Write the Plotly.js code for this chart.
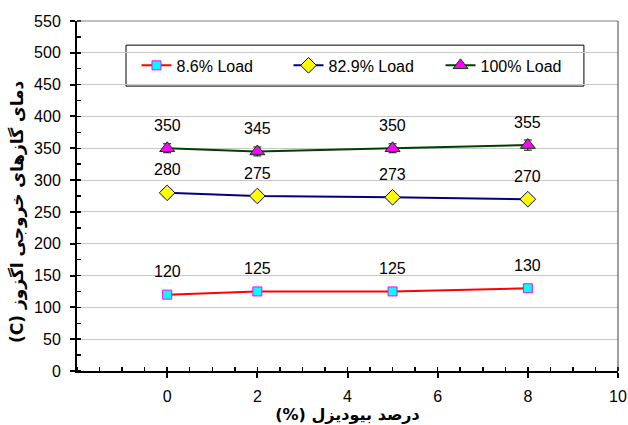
<!DOCTYPE html>
<html>
<head>
<meta charset="utf-8">
<script src="https://cdn.plot.ly/plotly-3.0.1.min.js"></script>
<style>html,body{margin:0;padding:0;background:#fff;}</style>
</head>
<body>
<div id="chart" style="width:628px;height:425px;"></div>
<script>
const biodiesel = [0, 2, 5, 8];
const seriesNames = ["8.6% Load", "82.9% Load", "100% Load"];
const load86 = [120, 125, 125, 130];
const load829 = [280, 275, 273, 270];
const load100 = [350, 345, 350, 355];
const err86 = [3, 3, 3, 3];
const err829 = [6, 6, 6, 5];
const err100 = [7, 7, 7, 8];
const xTickVals = [0, 2, 4, 6, 8, 10];
const yTickVals = [0, 50, 100, 150, 200, 250, 300, 350, 400, 450, 500, 550];
const xTitle = "درصد بیودیزل (%)";
const yTitle = "دمای گازهای خروجی اگزوز (C)";

const FONT = "Arial, 'Liberation Sans', 'DejaVu Sans', sans-serif";
const AFONT = "'DejaVu Sans', Arial, sans-serif";
const rtl = s => "\u202B" + s + "\u202C";

function mk(name, y, err, lineColor, sym, size, fill, edge) {
  return {
    x: biodiesel, y: y, name: name, type: "scatter", mode: "lines+markers",
    line: {color: lineColor, width: 2},
    marker: {symbol: sym, size: size, color: fill, line: {color: edge, width: 1}},
    error_y: {type: "data", array: err, visible: true, color: "#000", thickness: 1, width: 4},
    cliponaxis: false
  };
}

const traces = [
  mk(seriesNames[0], load86, err86, "#ff0000", "square", 9, "#00ffff", "#ff00ff"),
  mk(seriesNames[1], load829, err829, "#000080", "diamond", 12, "#ffff00", "#000080"),
  mk(seriesNames[2], load100, err100, "#004000", "triangle-up", 13, "#ff00ff", "#004000")
];

const annotations = [];
[load86, load829, load100].forEach(arr => {
  arr.forEach((v, i) => {
    annotations.push({
      x: biodiesel[i], y: v, xref: "x", yref: "y", text: String(v),
      showarrow: false, yshift: 23, font: {family: FONT, size: 16, color: "#000"}
    });
  });
});
annotations.push({
  xref: "paper", yref: "paper", x: -0.111, y: 0.5, xanchor: "center", yanchor: "middle",
  text: "<b>" + rtl(yTitle) + "</b>", textangle: -90, showarrow: false, yshift: -16,
  font: {family: AFONT, size: 17, color: "#000"}
});

const layout = {
  width: 628, height: 425,
  margin: {l: 77, r: 10, t: 21, b: 54, autoexpand: false},
  paper_bgcolor: "#fff", plot_bgcolor: "#fff",
  font: {family: FONT, size: 16, color: "#000"},
  showlegend: true,
  legend: {
    orientation: "h", x: 0.11, y: 0.873, xanchor: "left", yanchor: "middle",
    bgcolor: "rgba(0,0,0,0)", borderwidth: 0,
    font: {family: FONT, size: 16, color: "#000"},
    entrywidth: 107, entrywidthmode: "pixels",
    traceorder: "normal"
  },
  xaxis: {
    range: [-2, 10], tickvals: xTickVals, ticktext: xTickVals.map(String),
    showgrid: false, zeroline: false, showline: true, linecolor: "#000", linewidth: 2,
    ticks: "outside", ticklen: 5, tickwidth: 2, tickcolor: "#000", ticklabelstandoff: 5,
    minor: {dtick: 0.5, tick0: 0, ticks: "inside", ticklen: 4, tickwidth: 1.5, tickcolor: "#000", showgrid: false},
    tickfont: {family: FONT, size: 16},
    title: {text: "<b>" + rtl(xTitle) + "</b>", font: {family: AFONT, size: 16}, standoff: 0}
  },
  yaxis: {
    range: [0, 550], tickvals: yTickVals, ticktext: yTickVals.map(String),
    showgrid: true, gridcolor: "#c8c8c8", gridwidth: 1, zeroline: false,
    showline: true, linecolor: "#000", linewidth: 2,
    ticks: "outside", ticklen: 5, tickwidth: 2, tickcolor: "#000", ticklabelstandoff: 6,
    minor: {dtick: 25, tick0: 0, ticks: "inside", ticklen: 4, tickwidth: 1.5, tickcolor: "#000", showgrid: false},
    tickfont: {family: FONT, size: 16}
  },
  shapes: [
    {type: "line", xref: "paper", yref: "paper", x0: 0, x1: 1, y0: 1, y1: 1, line: {color: "#808080", width: 1}},
    {type: "line", xref: "paper", yref: "paper", x0: 1, x1: 1, y0: 0, y1: 1, line: {color: "#404040", width: 1}},
    {type: "rect", xref: "paper", yref: "paper", x0: 0.0906, x1: 0.937, y0: 0.814, y1: 0.931,
     fillcolor: "#fff", line: {color: "#000", width: 1}, layer: "below"}
  ],
  annotations: annotations
};

Plotly.newPlot("chart", traces, layout, {displayModeBar: false, staticPlot: true});
</script>
</body>
</html>
